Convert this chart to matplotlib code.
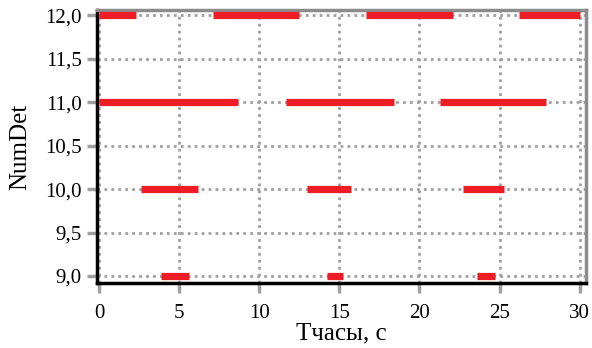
import matplotlib
matplotlib.use("Agg")
import matplotlib.pyplot as plt

# time intervals (start, end) in seconds for each detector number
levels = [12.0, 11.0, 10.0, 9.0]
starts = [
    [0.0, 7.1, 16.65, 26.2],
    [0.0, 11.7, 21.3],
    [2.6, 13.0, 22.7],
    [3.9, 14.2, 23.6],
]
ends = [
    [2.3, 12.5, 22.1, 30.0],
    [8.7, 18.4, 27.9],
    [6.2, 15.7, 25.3],
    [5.6, 15.2, 24.7],
]

xticks = [0, 5, 10, 15, 20, 25, 30]
yticks = [9.0, 9.5, 10.0, 10.5, 11.0, 11.5, 12.0]
ytick_labels = ["9,0", "9,5", "10,0", "10,5", "11,0", "11,5", "12,0"]

plt.rcParams['font.family'] = ['Liberation Serif', 'DejaVu Serif']

fig = plt.figure(figsize=(5.92, 3.48), dpi=100)
ax = fig.add_axes([0.164, 0.187, 0.826, 0.784])

for lev, s_list, e_list in zip(levels, starts, ends):
    for s, e in zip(s_list, e_list):
        ax.plot([s, e], [lev, lev], color="#ee1c25", lw=5.2,
                solid_capstyle="butt", zorder=3)

ax.set_xlim(-0.12, 30.4)
ax.set_ylim(8.92, 12.06)
ax.set_xticks(xticks)
ax.set_yticks(yticks)
ax.set_yticklabels(ytick_labels)
ax.grid(True, color="#a0a0a0", linestyle=(0, (1, 1.5)), linewidth=2.0)

ax.tick_params(axis="both", labelsize=15, color="#a0a0a0", width=2.5,
               length=7, direction="out")
ax.tick_params(axis="y", pad=4)
ax.tick_params(axis="x", pad=8)

for side in ["left", "bottom"]:
    ax.spines[side].set_color("black")
    ax.spines[side].set_linewidth(2.5)
for side in ["top", "right"]:
    ax.spines[side].set_color("#8c8c8c")
    ax.spines[side].set_linewidth(2.5)

ax.set_xlabel("Тчасы, с", fontsize=18, labelpad=0)
ax.set_ylabel("NumDet", fontsize=18, labelpad=10)

fig.savefig("out.png", dpi=100)
